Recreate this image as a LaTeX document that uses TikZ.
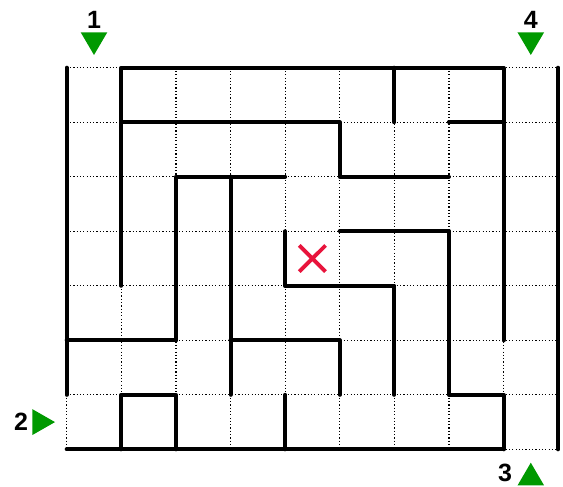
\documentclass[tikz,border=0pt]{standalone}
\usepackage{fontspec}
\setmainfont{Liberation Sans}
\definecolor{mazegreen}{RGB}{0,153,0}
\definecolor{mazered}{RGB}{232,20,60}
\begin{document}
\begin{tikzpicture}[x=54.6pt,y=-54.52pt,
  gridline/.style={line width=1.2pt,dash pattern=on 1.2pt off 2.1pt,black},
  wall/.style={line width=4pt,line cap=round,line join=round,black},
  marker/.style={fill=mazegreen,draw=none},
  lab/.style={font=\fontsize{25}{25}\selectfont\bfseries,inner sep=0pt}]
\useasboundingbox (-1.2216,-1.2417) rectangle (9.0897,7.6724);
% dotted grid
\foreach \i in {0,...,9} \draw[gridline] (\i,0) -- (\i,7);
\foreach \j in {0,...,7} \draw[gridline] (0,\j) -- (9,\j);
% walls
\draw[wall] (0,0) -- (0,6);
\draw[wall] (1,4) -- (1,0) -- (8,0) -- (8,5);
\draw[wall] (9,0) -- (9,7);
\draw[wall] (0,7) -- (8,7);
\draw[wall] (6,0) -- (6,1);
\draw[wall] (1,1) -- (5,1) -- (5,2) -- (7,2);
\draw[wall] (7,1) -- (8,1);
\draw[wall] (2,5) -- (2,2) -- (4,2);
\draw[wall] (0,5) -- (2,5);
\draw[wall] (3,2) -- (3,6);
\draw[wall] (3,5) -- (5,5) -- (5,6);
\draw[wall] (4,3) -- (4,4) -- (6,4) -- (6,6);
\draw[wall] (5,3) -- (7,3) -- (7,6) -- (8,6) -- (8,7);
\draw[wall] (1,7) -- (1,6) -- (2,6) -- (2,7);
\draw[wall] (4,6) -- (4,7);
% red cross
\draw[mazered,line width=3.8pt] (4.26,3.26) -- (4.74,3.74) (4.26,3.74) -- (4.74,3.26);
% entrance markers
\fill[marker] (0.256,-0.649) -- (0.744,-0.649) -- (0.5,-0.233) -- cycle;
\fill[marker] (8.256,-0.649) -- (8.744,-0.649) -- (8.5,-0.233) -- cycle;
\fill[marker] (-0.630,6.262) -- (-0.630,6.738) -- (-0.214,6.5) -- cycle;
\fill[marker] (8.256,7.663) -- (8.744,7.663) -- (8.5,7.245) -- cycle;
\node[lab] (n1) at (0.5,-0.884) {1};
\node[lab] (n4) at (8.5,-0.884) {4};
\node[lab] (n2) at (-0.837,6.5) {2};
\node[lab] (n3) at (8.027,7.43) {3};
\end{tikzpicture}
\end{document}
